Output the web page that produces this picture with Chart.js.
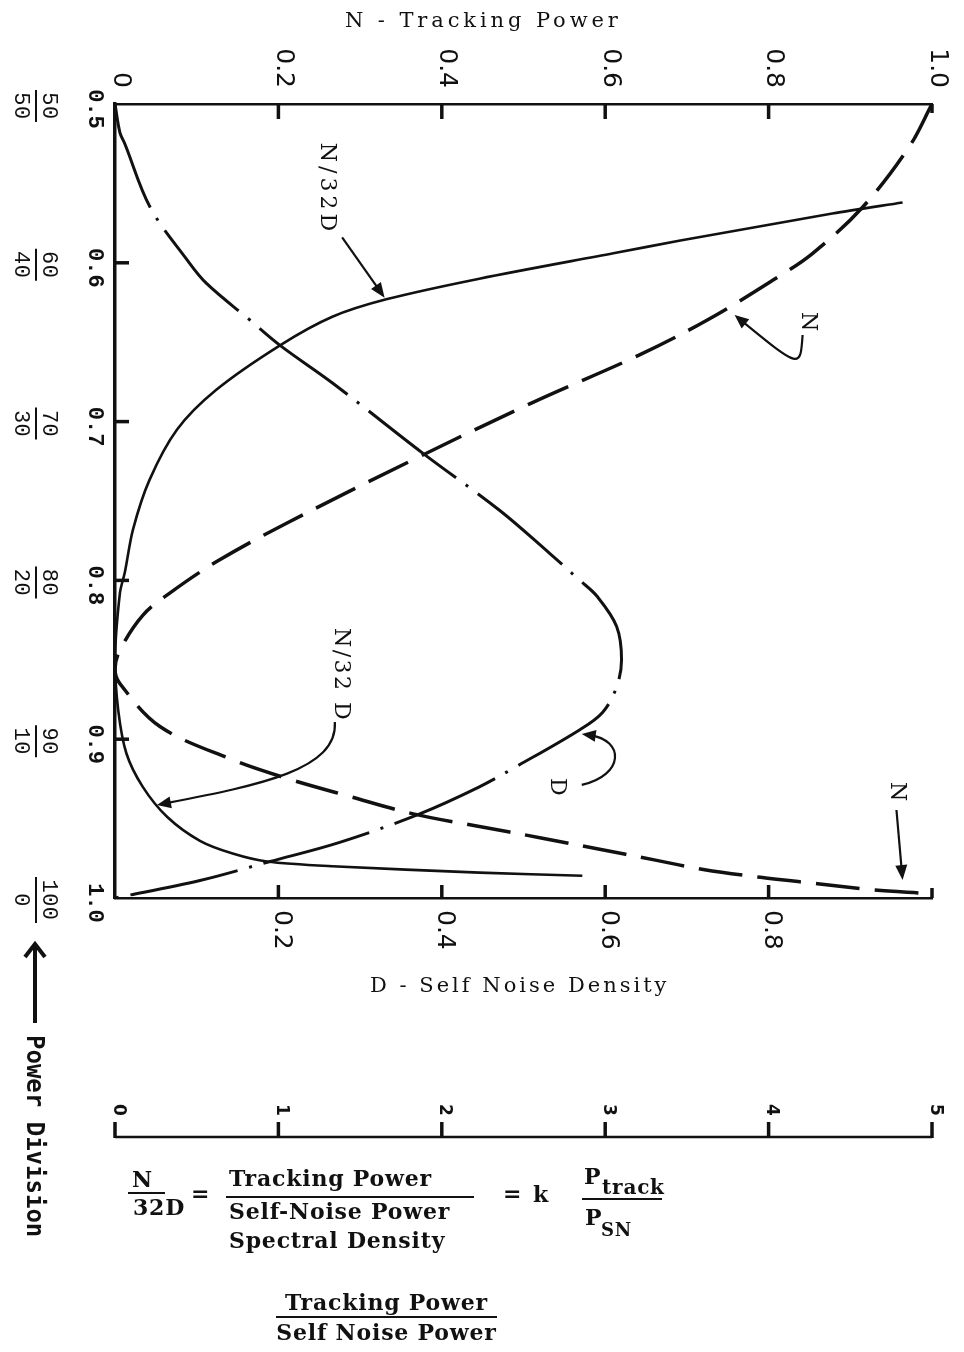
<!DOCTYPE html>
<html><head><meta charset="utf-8">
<script src="https://cdn.jsdelivr.net/npm/chart.js@4.4.0/dist/chart.umd.min.js"></script>
<style>
html,body{margin:0;padding:0;background:#fff;}
#wrap{position:relative;width:964px;height:1352px;overflow:hidden;background:#fff;}
#c{position:absolute;left:0;top:0;}
.t{position:absolute;white-space:nowrap;color:#111;line-height:1;font-family:'DejaVu Serif',serif;}
.f{font-weight:bold;font-size:22px;letter-spacing:0.8px;}
.bar{position:absolute;height:0;border-top:2px solid #111;}
</style></head><body>
<div id="wrap">
<canvas id="c" width="964" height="1352"></canvas>
<div class="t" style="left:345px;top:10px;font-size:21px;letter-spacing:3.9px;">N - Tracking Power</div>
<div class="t" style="left:370px;top:975px;font-size:21px;letter-spacing:3px;">D - Self Noise Density</div>
<div class="t" style="left:22px;top:1035px;font-family:'DejaVu Sans Mono',monospace;font-weight:bold;font-size:24px;writing-mode:vertical-rl;line-height:26px;">Power Division</div>
<svg style="position:absolute;left:20px;top:935px" width="32" height="95"><line x1="15" y1="9" x2="15" y2="88" stroke="#111" stroke-width="4"/><polyline points="5,22 15,9 25,22" fill="none" stroke="#111" stroke-width="4"/></svg>

<div class="t f" style="left:132px;top:1168px;">N</div>
<div class="bar" style="left:128px;top:1192px;width:37px;"></div>
<div class="t f" style="left:133px;top:1196px;">32D</div>
<div class="t f" style="left:191px;top:1182px;">=</div>
<div class="t f" style="left:229px;top:1167px;">Tracking Power</div>
<div class="bar" style="left:226px;top:1196px;width:248px;"></div>
<div class="t f" style="left:229px;top:1200px;">Self-Noise Power</div>
<div class="t f" style="left:229px;top:1229px;">Spectral Density</div>
<div class="t f" style="left:503px;top:1182px;">=</div>
<div class="t f" style="left:533px;top:1183px;">k</div>
<div class="t f" style="left:584px;top:1165px;">P</div>
<div class="t f" style="left:602px;top:1177px;font-size:20px;">track</div>
<div class="bar" style="left:582px;top:1198px;width:80px;"></div>
<div class="t f" style="left:585px;top:1206px;">P</div>
<div class="t f" style="left:601px;top:1221px;font-size:18px;">SN</div>
<div class="t f" style="left:276px;top:1291px;width:221px;text-align:center;">Tracking Power</div>
<div class="bar" style="left:276px;top:1316px;width:221px;"></div>
<div class="t f" style="left:276px;top:1321px;width:221px;text-align:center;">Self Noise Power</div>
</div>
<script>
// ---- data (power division fraction on the vertical axis) ----
const nFrac = [0.5, 0.527, 0.565, 0.594, 0.611, 0.636, 0.658, 0.688, 0.724, 0.764, 0.788, 0.808, 0.822, 0.844, 0.856, 0.865, 0.892, 0.913, 0.924, 0.936, 0.947, 0.955, 0.962, 0.969, 0.976, 0.982, 0.987, 0.991, 0.995, 0.997];
const trackingPowerN = [1.0, 0.972, 0.915, 0.854, 0.805, 0.725, 0.642, 0.511, 0.365, 0.21, 0.125, 0.067, 0.034, 0.006, 0.0, 0.006, 0.055, 0.144, 0.206, 0.287, 0.365, 0.446, 0.52, 0.59, 0.66, 0.72, 0.79, 0.86, 0.93, 0.99];

const dFrac = [0.5, 0.518, 0.525, 0.565, 0.598, 0.613, 0.636, 0.652, 0.676, 0.72, 0.756, 0.783, 0.80, 0.81, 0.829, 0.85, 0.867, 0.883, 0.894, 0.917, 0.93, 0.947, 0.965, 0.977, 0.989, 1.0];
const selfNoiseD = [0, 0.006, 0.012, 0.043, 0.088, 0.112, 0.165, 0.202, 0.267, 0.377, 0.471, 0.532, 0.569, 0.59, 0.614, 0.62, 0.614, 0.597, 0.569, 0.492, 0.446, 0.373, 0.275, 0.19, 0.104, 0];

const rFrac = [0.562, 0.569, 0.586, 0.594, 0.61, 0.623, 0.634, 0.652, 0.68, 0.705, 0.737, 0.768, 0.795, 0.808, 0.85, 0.882, 0.909, 0.93, 0.949, 0.964, 0.972, 0.977, 0.98, 0.984, 0.986];
const ratioN32D = [4.82, 4.39, 3.46, 3.05, 2.23, 1.66, 1.33, 1.01, 0.62, 0.38, 0.21, 0.11, 0.06, 0.03, 0.0, 0.02, 0.07, 0.17, 0.32, 0.52, 0.72, 0.93, 1.33, 2.23, 2.86];

// axis ranges / tick steps
const nRange = [0, 1.0];
const dRange = [0, 1.0];
const ratioRange = [0, 5];
const fracRange = [0.5, 1.0];

// curve annotations (in data units of the N/D scale and fraction scale)
const curveLabels = [
  {text: 'N/32D', x: 0.259, y: 0.5535, sp: 4},
  {text: 'N', x: 0.848, y: 0.637, sp: 0},
  {text: 'N/32 D', x: 0.276, y: 0.8596, sp: 2.5},
  {text: 'D', x: 0.541, y: 0.930, sp: 0},
  {text: 'N', x: 0.9565, y: 0.933, sp: 0}
];
const straightArrows = [
  [[0.278, 0.584], [0.330, 0.622]],
  [[0.9565, 0.9446], [0.964, 0.9887]]
];
const curvedArrows = [
  [[0.8416, 0.6455], [0.839, 0.6669], [0.839, 0.6669], [0.7584, 0.6329]],
  [[0.2691, 0.8892], [0.2728, 0.9194], [0.1774, 0.9288], [0.0514, 0.9414]],
  [[0.5713, 0.9288], [0.6239, 0.9225], [0.6239, 0.9005], [0.5713, 0.8967]]
];

const INK = '#111';
const toXY = (ys, xs) => ys.map((p, i) => ({x: xs[i], y: p}));

function rtext(ctx, txt, px, py, align, font, sp) {
  ctx.save();
  ctx.translate(px, py);
  ctx.rotate(Math.PI / 2);
  ctx.font = font;
  ctx.letterSpacing = (sp || 0) + 'px';
  ctx.textAlign = align;
  ctx.textBaseline = 'middle';
  ctx.fillText(txt, 0, 0);
  ctx.restore();
}
function seg(ctx, x1, y1, x2, y2) { ctx.beginPath(); ctx.moveTo(x1, y1); ctx.lineTo(x2, y2); ctx.stroke(); }
function head(ctx, x, y, ang, len, w) {
  const c = Math.cos(ang), s = Math.sin(ang);
  ctx.beginPath();
  ctx.moveTo(x, y);
  ctx.lineTo(x - len * c - w * s, y - len * s + w * c);
  ctx.lineTo(x - len * c + w * s, y - len * s - w * c);
  ctx.closePath();
  ctx.fill();
}
const fmt = v => (Math.abs(v) < 1e-9 ? '0' : v.toFixed(1));

const drawPlugin = {
  id: 'drawPlugin',
  afterDraw(chart) {
    const ctx = chart.ctx;
    const sx = chart.scales.x, sd = chart.scales.xD, sr = chart.scales.xR, sy = chart.scales.y;
    const a = chart.chartArea;
    ctx.save();
    ctx.strokeStyle = INK; ctx.fillStyle = INK; ctx.lineCap = 'butt';
    const tickFont = '25px "DejaVu Sans"';
    // top axis (N)
    ctx.lineWidth = 3.5;
    sx.ticks.forEach(t => {
      const px = sx.getPixelForValue(t.value);
      if (t.value > 1e-9) seg(ctx, px, a.top, px, a.top + (t.value > 0.99 ? 9 : 15));
      rtext(ctx, fmt(t.value), px + 5, a.top - 16, 'right', tickFont, 0);
    });
    // bottom axis (D)
    sd.ticks.forEach(t => {
      const px = sd.getPixelForValue(t.value);
      if (t.value > 1e-9) seg(ctx, px, a.bottom, px, a.bottom - (t.value > 0.99 ? 10 : 13));
      if (t.value > 1e-9 && t.value < 0.99) rtext(ctx, fmt(t.value), px + 3, a.bottom + 12, 'left', tickFont, 0);
    });
    // left axis (power division)
    sy.ticks.forEach(t => {
      const py = sy.getPixelForValue(t.value);
      if (t.value > 0.51 && t.value < 0.99) seg(ctx, a.left, py, a.left + 14, py);
      rtext(ctx, t.value.toFixed(1), a.left - 20, py + 5, 'center', 'bold 22px "Liberation Mono"', 0);
      const num = Math.round(t.value * 100), den = 100 - num;
      const f = '22px "Liberation Mono"';
      rtext(ctx, String(num), a.left - 66, py + 2, 'center', f, 0.5);
      rtext(ctx, String(den), a.left - 94, py + 2, 'center', f, 0.5);
      const L = Math.max(String(num).length, String(den).length) * 14 + 4;
      ctx.lineWidth = 2;
      seg(ctx, a.left - 79, py + 2 - L / 2, a.left - 79, py + 2 + L / 2);
      ctx.lineWidth = 3.5;
    });
    // detached N/32D axis (0..5)
    const ay = a.bottom + 239;
    ctx.lineWidth = 2.5;
    seg(ctx, sr.left, ay, sr.right, ay);
    ctx.lineWidth = 3.5;
    sr.ticks.forEach(t => {
      const px = sr.getPixelForValue(t.value);
      seg(ctx, px, ay + 1, px, ay - 15);
      rtext(ctx, String(Math.round(t.value)), px + 3, ay - 27, 'center', 'bold 17px "DejaVu Sans"', 0);
    });
    // curve labels and arrows
    curveLabels.forEach(l => {
      rtext(ctx, l.text, sx.getPixelForValue(l.x), sy.getPixelForValue(l.y), 'center', '22px "DejaVu Serif"', l.sp);
    });
    ctx.lineWidth = 2.2;
    straightArrows.forEach(([p0, p1]) => {
      const x0 = sx.getPixelForValue(p0[0]), y0 = sy.getPixelForValue(p0[1]);
      const x1 = sx.getPixelForValue(p1[0]), y1 = sy.getPixelForValue(p1[1]);
      const ang = Math.atan2(y1 - y0, x1 - x0);
      seg(ctx, x0, y0, x1 - 8 * Math.cos(ang), y1 - 8 * Math.sin(ang));
      head(ctx, x1, y1, ang, 15, 6);
    });
    curvedArrows.forEach(pts => {
      const q = pts.map(p => [sx.getPixelForValue(p[0]), sy.getPixelForValue(p[1])]);
      const ang = Math.atan2(q[3][1] - q[2][1], q[3][0] - q[2][0]);
      ctx.beginPath();
      ctx.moveTo(q[0][0], q[0][1]);
      ctx.bezierCurveTo(q[1][0], q[1][1], q[2][0], q[2][1], q[3][0] - 8 * Math.cos(ang), q[3][1] - 8 * Math.sin(ang));
      ctx.stroke();
      head(ctx, q[3][0], q[3][1], ang, 14, 6);
    });
    ctx.restore();
  }
};

const axisBase = (pos, min, max, step, bw) => ({
  type: 'linear', position: pos, min: min, max: max,
  ticks: {display: false, stepSize: step},
  grid: {display: true, drawOnChartArea: false, drawTicks: false},
  border: {display: true, width: bw, color: INK}
});

new Chart(document.getElementById('c'), {
  type: 'scatter',
  data: {
    datasets: [
      {label: 'N', data: toXY(nFrac, trackingPowerN), xAxisID: 'x', yAxisID: 'y', showLine: true,
       borderColor: INK, borderWidth: 3.5, borderDash: [44, 15], pointRadius: 0, tension: 0.35, fill: false},
      {label: 'D', data: toXY(dFrac, selfNoiseD), xAxisID: 'xD', yAxisID: 'y', showLine: true,
       borderColor: INK, borderWidth: 3, borderDash: [110, 12, 3, 12], pointRadius: 0, tension: 0.35, fill: false},
      {label: 'N/32D', data: toXY(rFrac, ratioN32D), xAxisID: 'xR', yAxisID: 'y', showLine: true,
       borderColor: INK, borderWidth: 2.6, pointRadius: 0, tension: 0.3, fill: false}
    ]
  },
  options: {
    responsive: false, animation: false, events: [],
    layout: {padding: {left: 115, right: 32, top: 104, bottom: 454}},
    plugins: {legend: {display: false}, tooltip: {enabled: false}},
    scales: {
      x: axisBase('top', nRange[0], nRange[1], 0.2, 2.5),
      xD: axisBase('bottom', dRange[0], dRange[1], 0.2, 2.5),
      xR: Object.assign(axisBase('bottom', ratioRange[0], ratioRange[1], 1, 0), {display: false}),
      y: Object.assign(axisBase('left', fracRange[0], fracRange[1], 0.1, 3.5), {reverse: true})
    }
  },
  plugins: [drawPlugin]
});
</script>
</body></html>
